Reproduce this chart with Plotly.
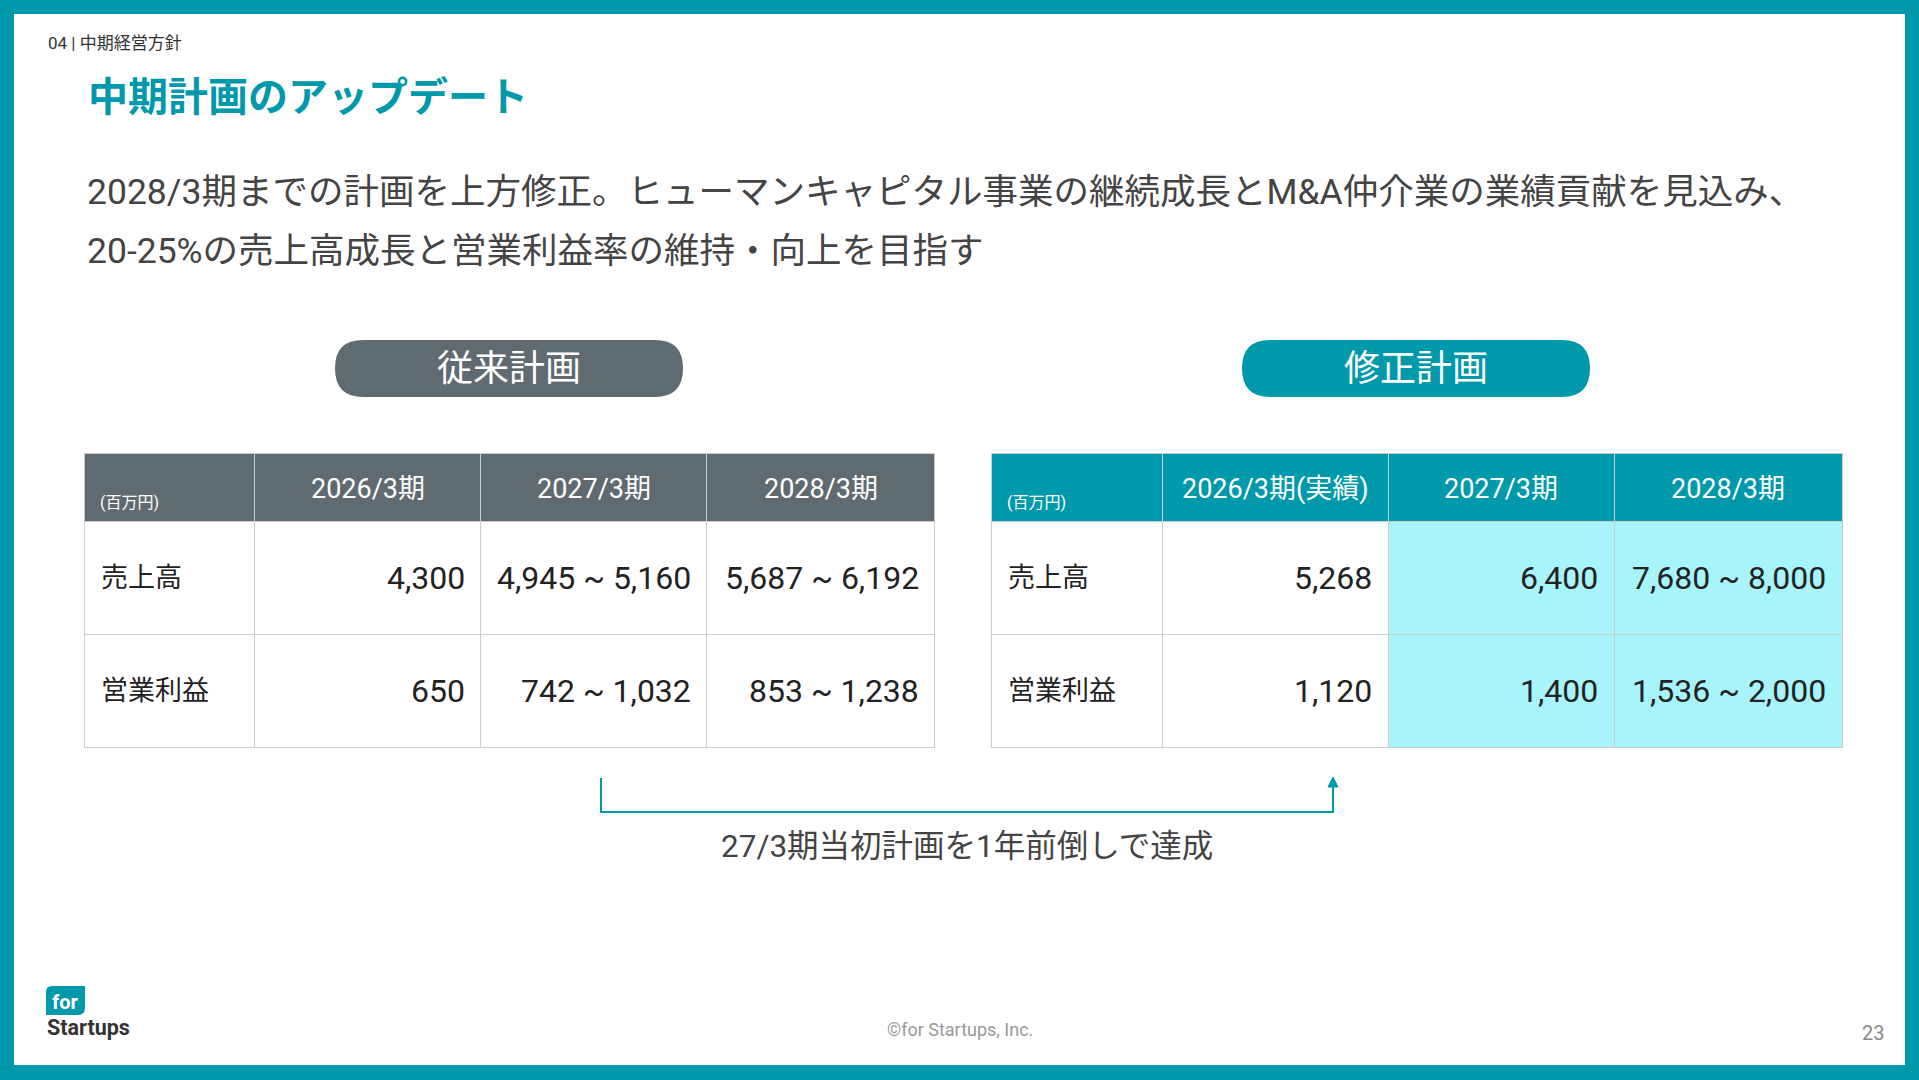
import plotly.graph_objects as go

W, H = 1919, 1080
TEAL = "#0099ab"
GREY = "#5f6b71"
FONT = "Roboto, Noto Sans CJK JP"

row_labels = ["売上高", "営業利益"]
old_periods = ["2026/3期", "2027/3期", "2028/3期"]
old_sales = ["4,300", "4,945 ~ 5,160", "5,687 ~ 6,192"]
old_profit = ["650", "742 ~ 1,032", "853 ~ 1,238"]
new_periods = ["2026/3期(実績)", "2027/3期", "2028/3期"]
new_sales = ["5,268", "6,400", "7,680 ~ 8,000"]
new_profit = ["1,120", "1,400", "1,536 ~ 2,000"]

# column edges in pixels (label column + 3 periods)
old_edges = [84, 255, 481, 707, 935]
new_edges = [991, 1162, 1388, 1614, 1842]
row_mid = [578, 691]

fig = go.Figure()
ann = []


def add_table(edges, periods, sales, profit, head_col, hl):
    fills = [["white", "white"]] + [["#a8f4fb"] * 2 if hl[i] else ["white"] * 2 for i in range(3)]
    fig.add_trace(go.Table(
        domain=dict(x=[edges[0] / W, edges[-1] / W], y=[1 - 750 / H, 1 - 453 / H]),
        columnwidth=[edges[i + 1] - edges[i] for i in range(4)],
        header=dict(values=["", "", "", ""], height=68,
                    fill_color=head_col, line_color="#cccccc"),
        cells=dict(values=[["", ""]] * 4, height=113, fill_color=fills, line_color="#cccccc"),
    ))
    ann.append(dict(x=edges[0] + 14, y=502, text="(百万円)", size=16, color="white", xanchor="left"))
    for i, p in enumerate(periods):
        ann.append(dict(x=(edges[i + 1] + edges[i + 2]) / 2, y=489, text=p, size=27,
                        color="white", xanchor="center"))
    for r, lab in enumerate(row_labels):
        ann.append(dict(x=edges[0] + 15, y=row_mid[r], text=lab, size=27, color="#222222", xanchor="left"))
        vals = sales if r == 0 else profit
        for i, v in enumerate(vals):
            ann.append(dict(x=edges[i + 2] - 14, y=row_mid[r], text=v, size=32,
                            color="#222222", xanchor="right"))


add_table(old_edges, old_periods, old_sales, old_profit, GREY, [False, False, False])
add_table(new_edges, new_periods, new_sales, new_profit, TEAL, [False, True, True])

shapes = [
    dict(type="rect", x0=14, x1=W - 14, y0=14, y1=1065, fillcolor="white", line_width=0, layer="below"),
    dict(type="path", path="M 335,368 Q 335,340 363,340 L 655,340 Q 683,340 683,368 Q 683,397 655,397 L 363,397 Q 335,397 335,368 Z",
         fillcolor=GREY, line_width=0),
    dict(type="path", path="M 1242,368 Q 1242,340 1270,340 L 1562,340 Q 1590,340 1590,368 Q 1590,397 1562,397 L 1270,397 Q 1242,397 1242,368 Z",
         fillcolor=TEAL, line_width=0),
    dict(type="path", path="M 601,778 L 601,812 L 1333,812 L 1333,785", line=dict(color=TEAL, width=2)),
    dict(type="path", path="M 1328,787 L 1333,777 L 1338,787 Z", fillcolor=TEAL, line=dict(color=TEAL, width=1)),
    dict(type="path", path="M 52,986 L 85,986 L 85,1008 Q 85,1015 78,1015 L 46,1015 L 46,992 Q 46,986 52,986 Z",
         fillcolor=TEAL, line_width=0),
]

ann += [
    dict(x=46, y=43, text="04 | 中期経営方針", size=17, color="#333333", xanchor="left"),
    dict(x=86, y=97, text="<b>中期計画のアップデート</b>", size=40, color=TEAL, xanchor="left"),
    dict(x=85, y=192, text="2028/3期までの計画を上方修正。ヒューマンキャピタル事業の継続成長とM&A仲介業の業績貢献を見込み、",
         size=35.5, color="#444444", xanchor="left"),
    dict(x=85, y=251, text="20-25%の売上高成長と営業利益率の維持・向上を目指す", size=35.5, color="#444444", xanchor="left"),
    dict(x=509, y=369, text="従来計画", size=36, color="white", xanchor="center"),
    dict(x=1416, y=369, text="修正計画", size=36, color="white", xanchor="center"),
    dict(x=967, y=846, text="27/3期当初計画を1年前倒しで達成", size=31.5, color="#444444", xanchor="center"),
    dict(x=65, y=1002, text="<b>for</b>", size=20, color="white", xanchor="center"),
    dict(x=45, y=1027, text="<b>Startups</b>", size=21.5, color="#333333", xanchor="left"),
    dict(x=960, y=1029, text="©for Startups, Inc.", size=18, color="#999999", xanchor="center"),
    dict(x=1873, y=1033, text="23", size=20, color="#888888", xanchor="center"),
]

fig.update_layout(
    width=W, height=H, margin=dict(l=0, r=0, t=0, b=0),
    paper_bgcolor=TEAL, plot_bgcolor="rgba(0,0,0,0)", showlegend=False,
    xaxis=dict(range=[0, W], visible=False, fixedrange=True),
    yaxis=dict(range=[H, 0], visible=False, fixedrange=True),
    shapes=shapes,
    annotations=[dict(x=a["x"], y=a["y"], xref="x", yref="y", text=a["text"], showarrow=False,
                      xanchor=a["xanchor"], yanchor="middle",
                      font=dict(size=a["size"], color=a["color"], family=FONT)) for a in ann],
)

fig.write_html("out.html", config={"displayModeBar": False},
               post_script="document.body.style.margin='0';document.body.style.overflow='hidden';")
